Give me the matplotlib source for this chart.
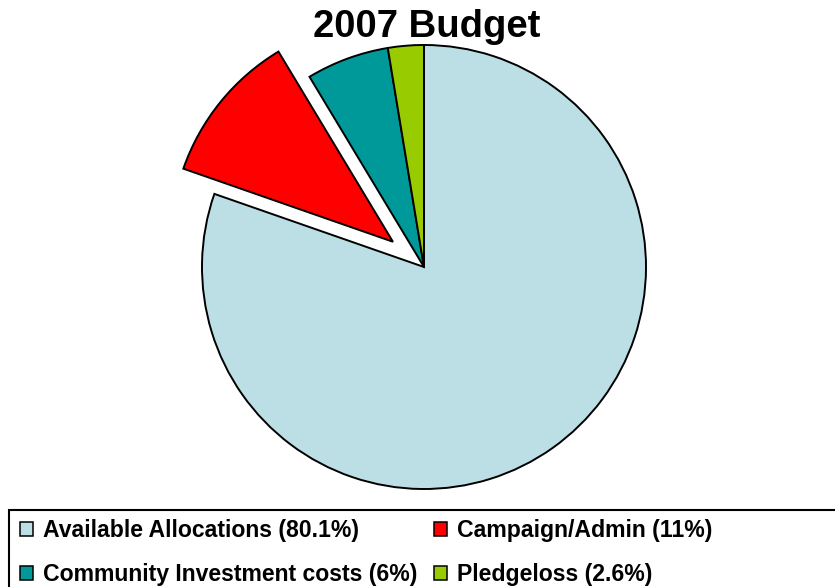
import matplotlib.pyplot as plt
from matplotlib.patches import Patch, Rectangle

plt.rcParams['font.family'] = ['Liberation Sans', 'DejaVu Sans']

labels = ['Available Allocations', 'Campaign/Admin', 'Community Investment costs', 'Pledgeloss']
shares = [80.1, 11, 6, 2.6]
colors = ['#BBDFE4', '#FF0000', '#009999', '#99CC00']
explode = [0, 40, 0, 0]  # pixel units, same as the axes

W, H = 835, 587
fig = plt.figure(figsize=(W / 100, H / 100), dpi=100)
ax = fig.add_axes([0, 0, 1, 1])
ax.set_aspect('equal')
ax.axis('off')

# pie drawn in pixel units, starting at 12 o'clock and going clockwise
ax.pie(shares, colors=colors, explode=explode, startangle=90, counterclock=False,
       center=(424, H - 267), radius=222,
       wedgeprops=dict(edgecolor='black', linewidth=1.4))
ax.set_xlim(0, W)
ax.set_ylim(0, H)

fig.text(427 / W, 1 - 37 / H, '2007 Budget', ha='center', va='baseline',
         fontsize=27.5, fontweight='bold')

# legend box running off the bottom/right edge
fig.patches.append(Rectangle((9 / W, -0.05), 1.0, (H - 510) / H + 0.05,
                             transform=fig.transFigure, facecolor='white',
                             edgecolor='black', linewidth=1.5))

handles = [Patch(facecolor=c, edgecolor='black', linewidth=1.1) for c in colors]
names = [f'{l} ({s}%)' for l, s in zip(labels, shares)]
order = [0, 2, 1, 3]
leg = fig.legend([handles[i] for i in order], [names[i] for i in order],
                 ncol=2, loc='upper left', bbox_to_anchor=(20 / W, 1 - 519 / H),
                 frameon=False, prop=dict(weight='bold', size=16.6),
                 handlelength=0.56, handleheight=0.56, handletextpad=0.42,
                 columnspacing=0.75, labelspacing=0.9, borderpad=0,
                 borderaxespad=0)

fig.savefig('out.png', dpi=100)
